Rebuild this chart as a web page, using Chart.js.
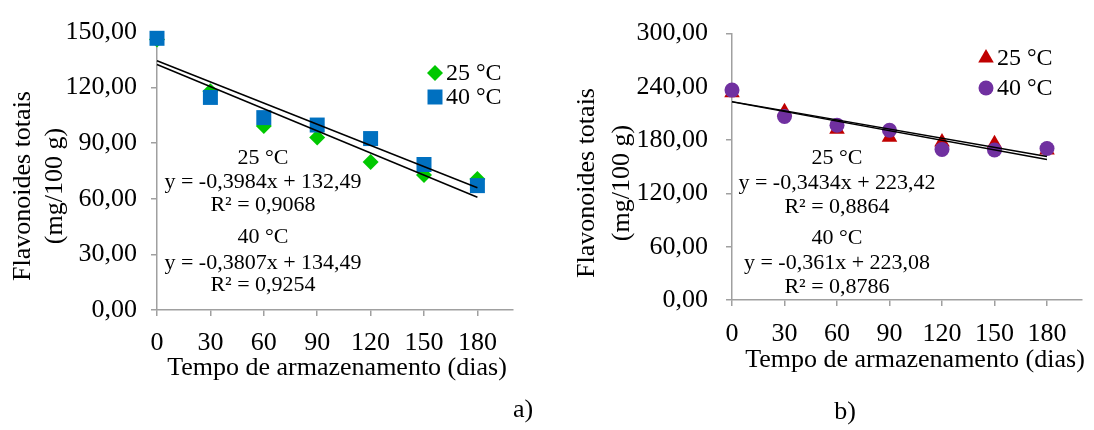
<!DOCTYPE html>
<html>
<head>
<meta charset="utf-8">
<script src="https://cdn.jsdelivr.net/npm/chart.js@4.4.0/dist/chart.umd.min.js"></script>
<style>
    html, body { margin: 0; padding: 0; background: #fff; }
    #wrap { position: relative; width: 1094px; height: 430px; }
    .box { position: absolute; top: 0; width: 547px; height: 430px; }
</style>
</head>
<body>
<div id="wrap">
    <div class="box" style="left:0"><canvas id="chartA"></canvas></div>
    <div class="box" style="left:547px"><canvas id="chartB"></canvas></div>
</div>
<script>
// storage time (days)
const days = [0, 30, 60, 90, 120, 150, 180];
const trendDays = [0, 180];
const xTicks = [0, 30, 60, 90, 120, 150, 180];
const xLabels = ['0', '30', '60', '90', '120', '150', '180'];

// a) total flavonoids
const a25 = [146.0, 118.0, 99.3, 93.1, 79.8, 72.9, 70.7];
const a40 = [146.6, 114.7, 103.8, 99.8, 92.5, 78.5, 67.1];
const aTrend25 = [132.5, 60.8];
const aTrend40 = [134.5, 66.0];
const aYTicks = [0, 30, 60, 90, 120, 150];
const aYLabels = ['0,00', '30,00', '60,00', '90,00', '120,00', '150,00'];
const aEquations = ['25 °C', 'y = -0,3984x + 132,49', 'R² = 0,9068', '40 °C', 'y = -0,3807x + 134,49', 'R² = 0,9254'];

// b) total flavonoids
const b25 = [233.5, 212.0, 192.2, 183.2, 177.8, 176.0, 168.9];
const b40 = [236.4, 206.6, 196.9, 191.1, 169.5, 168.9, 170.6];
const bTrend25 = [223.4, 161.6];
const bTrend40 = [223.1, 158.1];
const bYTicks = [0, 60, 120, 180, 240, 300];
const bYLabels = ['0,00', '60,00', '120,00', '180,00', '240,00', '300,00'];
const bEquations = ['25 °C', 'y = -0,3434x + 223,42', 'R² = 0,8864', '40 °C', 'y = -0,361x + 223,08', 'R² = 0,8786'];

const serif = '"Liberation Serif", "Times New Roman", serif';
const axisGray = '#a0a0a0';
const pts = (xs, ys) => xs.map((x, i) => ({ x, y: ys[i] }));

function drawMarker(ctx, style, x, y, r, color) {
    ctx.save();
    ctx.fillStyle = color;
    ctx.beginPath();
    if (style === 'rect') {
        const s = r * Math.SQRT1_2;
        ctx.rect(x - s, y - s, 2 * s, 2 * s);
    } else if (style === 'rectRot') {
        ctx.moveTo(x - r, y); ctx.lineTo(x, y - r); ctx.lineTo(x + r, y); ctx.lineTo(x, y + r);
    } else if (style === 'triangle') {
        ctx.moveTo(x, y - r);
        ctx.lineTo(x + r * 0.866, y + r / 2);
        ctx.lineTo(x - r * 0.866, y + r / 2);
    } else {
        ctx.arc(x, y, r, 0, Math.PI * 2);
    }
    ctx.closePath();
    ctx.fill();
    ctx.restore();
}

function panelText(p) {
    return {
        id: 'panelText',
        afterDraw(chart) {
            const ctx = chart.ctx;
            ctx.save();
            ctx.fillStyle = '#000';
            ctx.textAlign = 'center';
            ctx.textBaseline = 'middle';

            ctx.font = '26px ' + serif;
            p.yTitle.forEach((t, i) => {
                ctx.save();
                ctx.translate(p.yTitleX[i], p.yTitleY);
                ctx.rotate(-Math.PI / 2);
                ctx.fillText(t, 0, 0);
                ctx.restore();
            });
            ctx.fillText(p.xTitle, p.xTitleX, p.xTitleY);
            ctx.fillText(p.tag, p.tagX, p.tagY);

            ctx.font = '22px ' + serif;
            p.eq.forEach((t, i) => ctx.fillText(t, p.eqX, p.eqY[i]));

            ctx.font = '24px ' + serif;
            ctx.textAlign = 'left';
            p.legend.forEach(l => {
                drawMarker(ctx, l.style, l.x, l.y, l.r, l.color);
                ctx.fillText(l.text, l.x + 11, l.y + 1);
            });
            ctx.restore();
        },
    };
}

function makeChart(id, cfg) {
    return new Chart(document.getElementById(id), {
        type: 'scatter',
        data: {
            datasets: [
                { data: pts(trendDays, cfg.trend25), showLine: true, borderColor: '#000', borderWidth: 1.5, pointRadius: 0, clip: false },
                { data: pts(trendDays, cfg.trend40), showLine: true, borderColor: '#000', borderWidth: 1.5, pointRadius: 0, clip: false },
                { label: '40 °C', data: pts(days, cfg.s40), pointStyle: cfg.style40, pointRadius: cfg.r40,
                  backgroundColor: cfg.color40, borderWidth: 0, clip: false },
                { label: '25 °C', data: pts(days, cfg.s25), pointStyle: cfg.style25, pointRadius: cfg.r25,
                  backgroundColor: cfg.color25, borderWidth: 0, clip: false },
            ],
        },
        options: {
            responsive: true,
            maintainAspectRatio: false,
            animation: false,
            layout: { padding: { top: cfg.top, right: cfg.right, left: 0, bottom: 0 } },
            plugins: { legend: { display: false }, tooltip: { enabled: false } },
            scales: {
                x: {
                    min: 0, max: 200,
                    afterBuildTicks: s => { s.ticks = xTicks.map(v => ({ value: v })); },
                    afterFit: s => { s.height = cfg.xHeight; },
                    grid: { drawOnChartArea: false, color: axisGray, lineWidth: 1.5, tickLength: 6 },
                    border: { color: axisGray, width: 1.5 },
                    ticks: {
                        padding: cfg.xPad, color: '#000', maxRotation: 0,
                        font: { family: serif, size: 26 },
                        callback: (v, i) => xLabels[i],
                    },
                },
                y: {
                    min: cfg.yTicks[0], max: cfg.yTicks[cfg.yTicks.length - 1],
                    afterBuildTicks: s => { s.ticks = cfg.yTicks.map(v => ({ value: v })); },
                    afterFit: s => { s.width = cfg.yWidth; },
                    grid: { drawOnChartArea: false, color: axisGray, lineWidth: 1.5, tickLength: 6 },
                    border: { color: axisGray, width: 1.5 },
                    ticks: {
                        padding: cfg.yPad, color: '#000',
                        font: { family: serif, size: 26 },
                        callback: (v, i) => cfg.yLabels[i],
                    },
                },
            },
        },
        plugins: [panelText(cfg.text)],
    });
}

makeChart('chartA', {
    s25: a25, s40: a40, trend25: aTrend25, trend40: aTrend40,
    yTicks: aYTicks, yLabels: aYLabels,
    style25: 'rectRot', r25: 8, color25: '#00c800',
    style40: 'rect', r40: 10.6, color40: '#0070c0',
    top: 32, right: 34, yWidth: 157, xHeight: 120, xPad: 12, yPad: 14,
    text: {
        yTitle: ['Flavonoides totais', '(mg/100 g)'], yTitleX: [23, 55], yTitleY: 186,
        xTitle: 'Tempo de armazenamento (dias)', xTitleX: 337, xTitleY: 368,
        tag: 'a)', tagX: 523, tagY: 410,
        eq: aEquations, eqX: 263, eqY: [158, 182, 205, 237, 263, 285],
        legend: [
            { style: 'rectRot', r: 8, color: '#00c800', x: 435, y: 73, text: '25 °C' },
            { style: 'rect', r: 10.6, color: '#0070c0', x: 435, y: 97, text: '40 °C' },
        ],
    },
});

makeChart('chartB', {
    s25: b25, s40: b40, trend25: bTrend25, trend40: bTrend40,
    yTicks: bYTicks, yLabels: bYLabels,
    style25: 'triangle', r25: 9, color25: '#c00000',
    style40: 'circle', r40: 7.5, color40: '#7030a0',
    top: 22, right: 12, yWidth: 185, xHeight: 130, xPad: 13, yPad: 18,
    text: {
        yTitle: ['Flavonoides totais', '(mg/100 g)'], yTitleX: [40, 75], yTitleY: 183,
        xTitle: 'Tempo de armazenamento (dias)', xTitleX: 368, xTitleY: 360,
        tag: 'b)', tagX: 298, tagY: 412,
        eq: bEquations, eqX: 290, eqY: [158, 183, 207, 238, 263, 287],
        legend: [
            { style: 'triangle', r: 9, color: '#c00000', x: 439, y: 58, text: '25 °C' },
            { style: 'circle', r: 7.5, color: '#7030a0', x: 439, y: 88, text: '40 °C' },
        ],
    },
});
</script>
</body>
</html>
